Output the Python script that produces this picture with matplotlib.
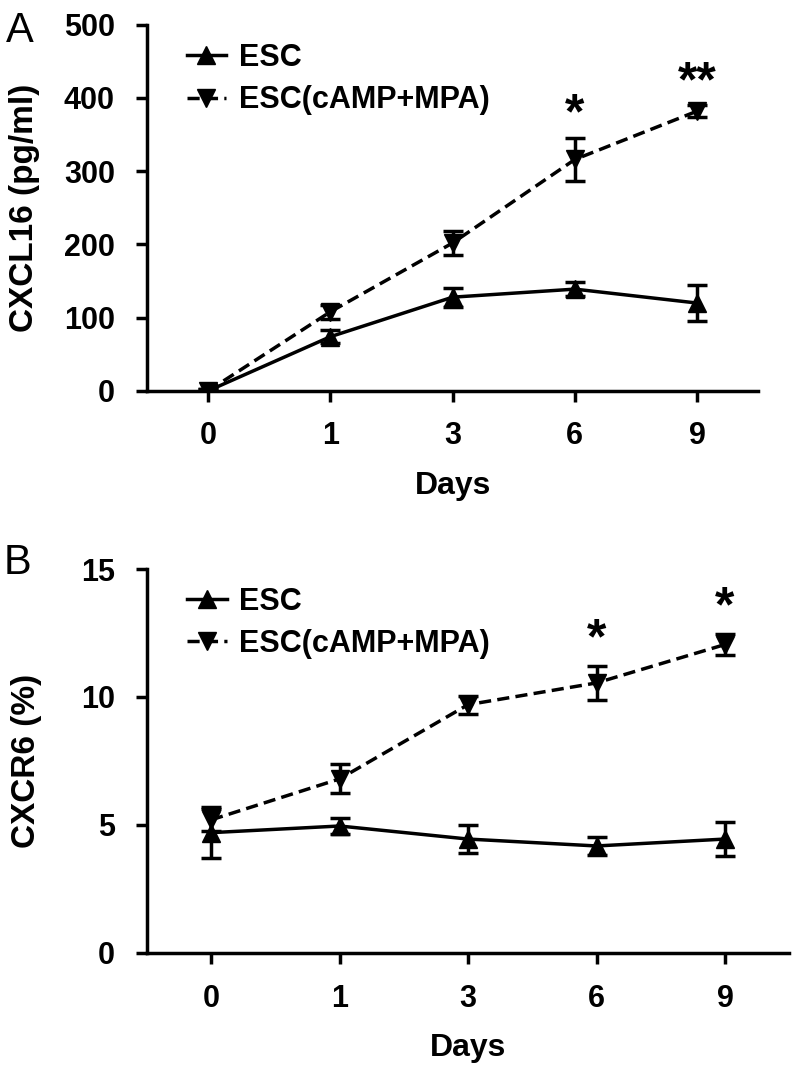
import matplotlib
matplotlib.use('Agg')
import matplotlib.pyplot as plt
import numpy as np

plt.rcParams['font.family'] = ['Liberation Sans', 'DejaVu Sans']
plt.rcParams['font.weight'] = 'bold'

##### Datos ####
dias = ['0', '1', '3', '6', '9']

# Panel A: CXCL16 (pg/ml)
esc_a = [0, 74, 128, 139, 120]
esc_a_err = [3, 9, 13, 10, 24]
trat_a = [0, 108, 202, 316, 382]
trat_a_err = [3, 10, 17, 30, 8]
estrellas_a = ['', '', '', '*', '**']

# Panel B: CXCR6 (%)
esc_b = [4.7, 4.96, 4.45, 4.18, 4.45]
esc_b_err = [1.0, 0.31, 0.55, 0.34, 0.66]
trat_b = [5.2, 6.8, 9.7, 10.55, 12.05]
trat_b_err = [0.42, 0.57, 0.35, 0.68, 0.4]
estrellas_b = ['', '', '', '*', '*']

fig = plt.figure(figsize=(7.94, 10.74), dpi=100)
axA = fig.add_axes([0.185, 0.636, 0.770, 0.341])
axB = fig.add_axes([0.185, 0.1127, 0.809, 0.3575])

def panel(ax, esc, esc_err, trat, trat_err, estrellas, ymax, yticks, ylabel, ystar, ylab_x):
    x = np.arange(len(dias))
    ax.errorbar(x, esc, yerr=esc_err, fmt='none', ecolor='black', elinewidth=2.5,
                capsize=7, capthick=2.5, zorder=3)
    ax.errorbar(x, trat, yerr=trat_err, fmt='none', ecolor='black', elinewidth=2.5,
                capsize=7, capthick=2.5, zorder=3)
    ax.plot(x, esc, '-', color='black', lw=2.5, marker='^', ms=13, label='ESC', zorder=4)
    ax.plot(x, trat, '--', color='black', lw=2.5, marker='v', ms=13, dashes=(3.5, 1.8),
            label='ESC(cAMP+MPA)', zorder=4)
    for i, s in enumerate(estrellas):
        if s:
            ax.text(x[i], trat[i] + trat_err[i] + ystar, s, ha='center', va='center',
                    fontsize=36, fontweight='bold')
    ax.set_xlim(-0.5, 4.5)
    ax.set_ylim(0, ymax)
    ax.set_xticks(x)
    ax.set_xticklabels(dias)
    ax.set_yticks(yticks)
    ax.spines['top'].set_visible(False)
    ax.spines['right'].set_visible(False)
    ax.spines['left'].set_linewidth(2.5)
    ax.spines['bottom'].set_linewidth(2.5)
    ax.tick_params(width=2.5, length=8, labelsize=22)
    ax.tick_params(axis='x', pad=14)
    ax.tick_params(axis='y', pad=15)
    ax.set_xlabel('Days', fontsize=23, fontweight='bold', labelpad=14)
    ax.set_ylabel(ylabel, fontsize=24, fontweight='bold')
    ax.yaxis.set_label_coords(ylab_x, 0.5)
    ax.legend(loc='upper left', bbox_to_anchor=(0.02, 1.025), frameon=False, fontsize=22,
              handlelength=1.3, handletextpad=0.4, labelspacing=0.4)

panel(axA, esc_a, esc_a_err, trat_a, trat_a_err, estrellas_a, 500,
      [0, 100, 200, 300, 400, 500], 'CXCL16 (pg/ml)', 30, -0.175)
panel(axB, esc_b, esc_b_err, trat_b, trat_b_err, estrellas_b, 15,
      [0, 5, 10, 15], 'CXCR6 (%)', 1.0, -0.164)

fig.text(0.008, 0.99, 'A', fontsize=30, fontweight='normal', va='top')
fig.text(0.005, 0.494, 'B', fontsize=30, fontweight='normal', va='top')

plt.savefig('out.png', dpi=100)
